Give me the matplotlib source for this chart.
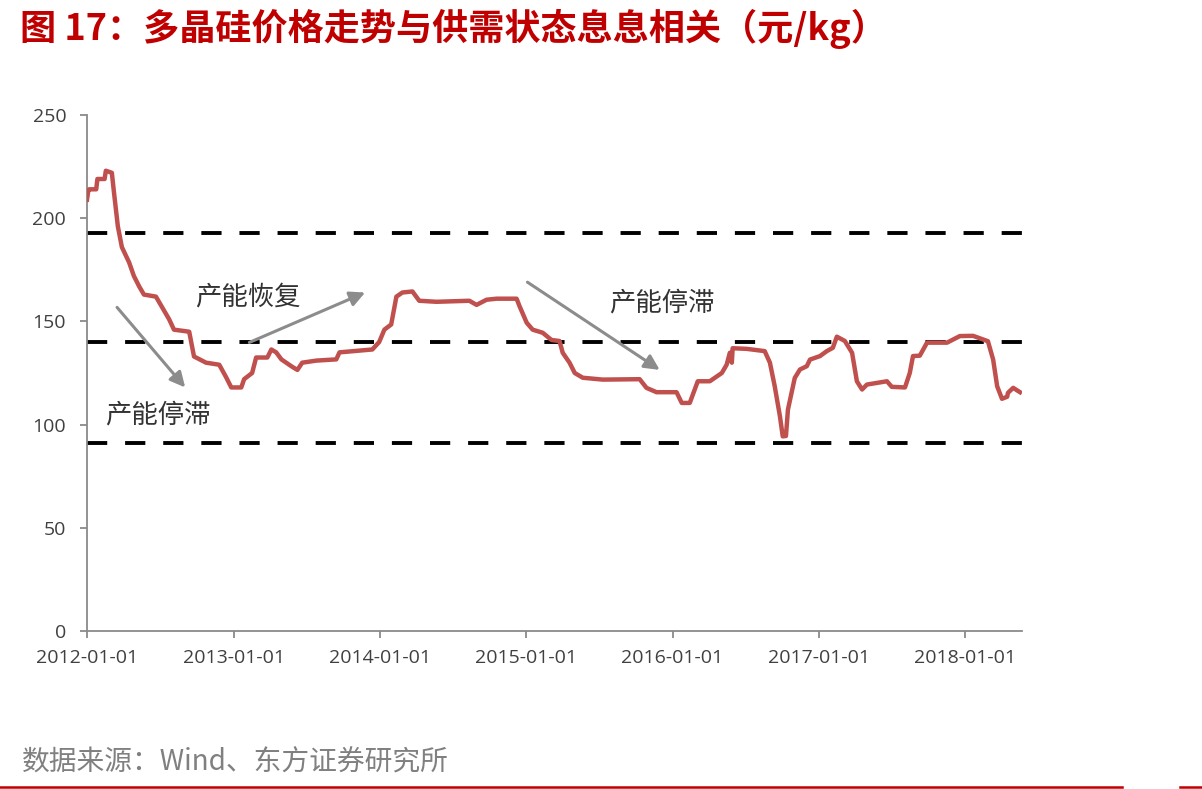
import matplotlib.pyplot as plt
import matplotlib.dates as mdates
import pandas as pd

plt.rcParams['font.family'] = ['Noto Sans CJK SC', 'DejaVu Sans']

dates = ['2012-01-01', '2012-01-04', '2012-01-06', '2012-01-24', '2012-01-27',
         '2012-02-14', '2012-02-17', '2012-03-03',
         '2012-03-08', '2012-03-18', '2012-03-28', '2012-04-15', '2012-04-27',
         '2012-05-10', '2012-05-22', '2012-06-21', '2012-07-06', '2012-07-24',
         '2012-08-05', '2012-09-12', '2012-09-24', '2012-10-24', '2012-11-26',
         '2012-12-13', '2012-12-26', '2013-01-20', '2013-01-27', '2013-02-16',
         '2013-02-26', '2013-03-26', '2013-04-05', '2013-04-17', '2013-04-30',
         '2013-05-27', '2013-06-09', '2013-06-21', '2013-07-26', '2013-09-14',
         '2013-09-22', '2013-12-13', '2013-12-30', '2014-01-12', '2014-01-29',
         '2014-02-11', '2014-02-26', '2014-03-23', '2014-04-09', '2014-05-22',
         '2014-08-12', '2014-08-30', '2014-09-24', '2014-10-19', '2014-12-08',
         '2014-12-15', '2015-01-02', '2015-01-17', '2015-02-11', '2015-03-05',
         '2015-03-25', '2015-04-02', '2015-04-19', '2015-05-02', '2015-05-22',
         '2015-07-11', '2015-10-11', '2015-10-28', '2015-11-22', '2016-01-11',
         '2016-01-24', '2016-02-13', '2016-03-04', '2016-04-03', '2016-05-03',
         '2016-05-15', '2016-05-23', '2016-05-28', '2016-05-30', '2016-07-04',
         '2016-08-18', '2016-08-31', '2016-09-12', '2016-09-25', '2016-10-02',
         '2016-10-10', '2016-10-15', '2016-11-01', '2016-11-14', '2016-12-01',
         '2016-12-09', '2017-01-03', '2017-01-20', '2017-02-04', '2017-02-14',
         '2017-03-06', '2017-03-24', '2017-04-05', '2017-04-18', '2017-04-30',
         '2017-06-19', '2017-07-01', '2017-08-03', '2017-08-15', '2017-08-23',
         '2017-09-09', '2017-09-27', '2017-11-16', '2017-12-18', '2018-01-20',
         '2018-02-26', '2018-03-11', '2018-03-21', '2018-04-02', '2018-04-15',
         '2018-04-17', '2018-04-30', '2018-05-17']
prices = [209, 213, 214, 214, 219,
          219, 223, 222,
          213, 196, 186, 178.6, 172,
          167, 163, 162, 157, 151,
          146, 145, 133, 130, 129,
          123, 118, 118, 122, 125,
          132.5, 132.5, 136.4, 135, 131.6,
          128, 126.5, 130, 131, 131.6,
          135, 136.4, 140, 146, 148.5,
          162, 164, 164.5, 160, 159.5,
          160, 158, 160.5, 161, 161,
          157.5, 149.4, 146, 144.5, 141,
          140.5, 134.8, 130, 125, 122.7,
          121.8, 122, 117.8, 115.7, 115.7,
          110.5, 110.5, 121, 121, 125,
          129, 134.8, 130, 137, 136.7,
          135.6, 130, 118.6, 104, 94.3,
          94.5, 107.3, 122.6, 126.7, 128.3,
          131.5, 133.2, 135.6, 137.2, 142.6,
          140.5, 134.8, 121, 117, 119.4,
          121, 118.3, 118, 125, 133.2,
          133.4, 139.7, 139.7, 142.9, 143,
          140.4, 131.5, 118.6, 112.5, 113.5,
          115.4, 117.8, 115.7]

levels = [193, 140, 91]
year_ticks = ['2012-01-01', '2013-01-01', '2014-01-01', '2015-01-01',
              '2016-01-01', '2017-01-01', '2018-01-01']

# arrows: (start date, start value, end date, end value)
arrows = [('2012-03-16', 156.8, '2012-09-02', 118.0),
          ('2013-02-09', 139.8, '2013-11-25', 164.0),
          ('2015-01-04', 169.0, '2015-11-30', 126.5)]
notes = [('产能恢复', '2012-09-28', 161.7),
         ('产能停滞', '2012-02-14', 104.9),
         ('产能停滞', '2015-07-28', 158.7)]

dates = pd.to_datetime(dates)

fig = plt.figure(figsize=(12.02, 7.89), dpi=100)
ax = fig.add_axes([87/1202, 158/789, 935/1202, 516/789])

ax.plot(dates, prices, color='#C0504D', linewidth=3.2, solid_joinstyle='round', zorder=3)

for v in levels:
    ax.plot([0, 1.0125], [v, v], transform=ax.get_yaxis_transform(), clip_on=False,
            color='black', linewidth=2.8, dashes=(5.2, 4.6), zorder=2)

for x0, y0, x1, y1 in arrows:
    ax.annotate('', xy=(pd.Timestamp(x1), y1), xytext=(pd.Timestamp(x0), y0),
                arrowprops=dict(arrowstyle='-|>,head_length=0.9,head_width=0.45',
                                color='#8C8C8C', linewidth=2.2, shrinkA=0, shrinkB=0))

for txt, d, v in notes:
    ax.text(pd.Timestamp(d), v, txt, fontsize=19, color='#333333',
            ha='left', va='center', fontweight='light')

ax.set_xlim(pd.Timestamp('2012-01-01'), pd.Timestamp('2018-05-22'))
ax.set_ylim(0, 250)
ax.set_yticks(range(0, 251, 50))
ax.set_xticks(pd.to_datetime(year_ticks))
ax.xaxis.set_major_formatter(mdates.DateFormatter('%Y-%m-%d'))

for s in ['top', 'right']:
    ax.spines[s].set_visible(False)
for s in ['left', 'bottom']:
    ax.spines[s].set_color('#8A8A8A')
    ax.spines[s].set_linewidth(1.3)
ax.tick_params(axis='both', colors='#8A8A8A', length=5, width=1.3,
               labelcolor='#404040', labelsize=14)
ax.tick_params(axis='x', pad=8)
ax.tick_params(axis='y', pad=10)
for lab in ax.get_xticklabels() + ax.get_yticklabels():
    lab.set_family(['Open Sans', 'DejaVu Sans'])

fig.text(20/1202, 1 - 29/789, '图 17：多晶硅价格走势与供需状态息息相关（元/kg）',
         fontsize=26, fontweight='bold', color='#C00000', ha='left', va='center')
fig.text(22/1202, 1 - 763/789, '数据来源：Wind、东方证券研究所',
         fontsize=20, color='#808080', ha='left', va='center', fontweight='light')

fig.add_artist(plt.Line2D([0, 1122/1202], [1 - 787/789] * 2, color='#C00000', linewidth=1.8))
fig.add_artist(plt.Line2D([1180/1202, 1], [1 - 787/789] * 2, color='#C00000', linewidth=1.8))

fig.savefig('out.png', dpi=100)
